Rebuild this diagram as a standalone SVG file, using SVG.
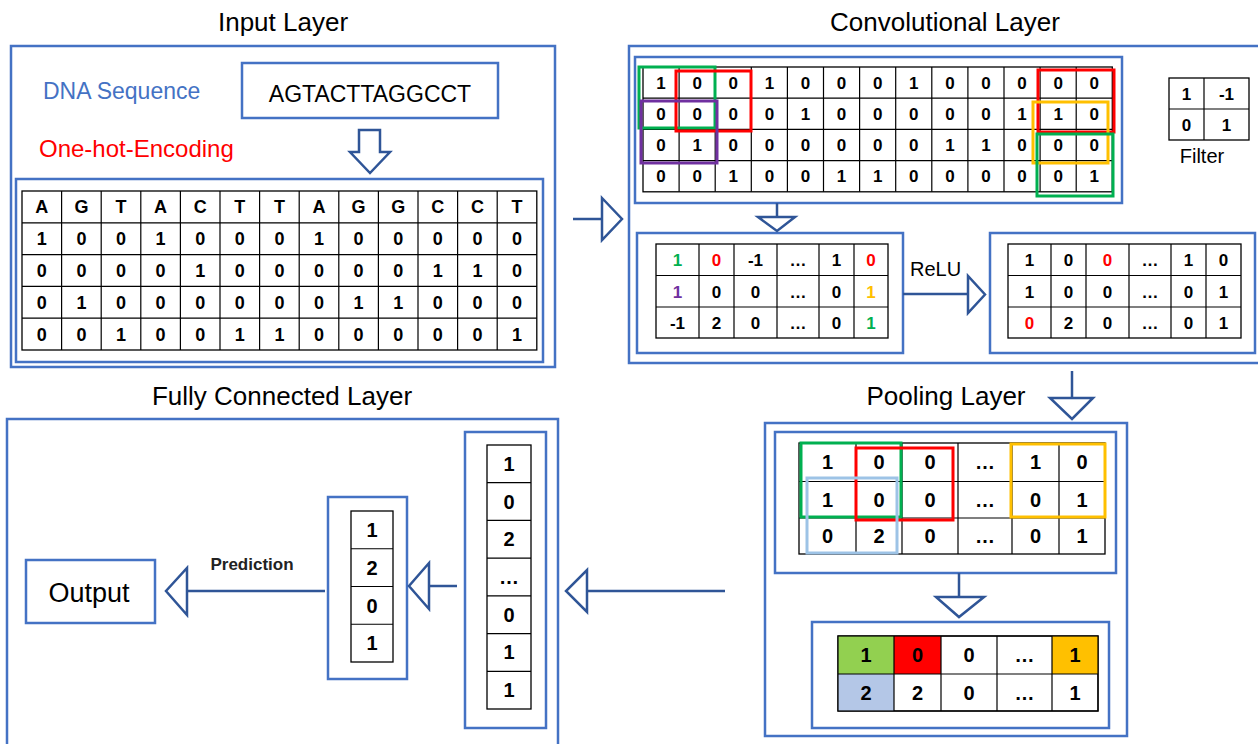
<svg xmlns="http://www.w3.org/2000/svg" width="1258" height="744" viewBox="0 0 1258 744">
<style>
.box{fill:none;stroke:#4472C4;stroke-width:2.5}
.tbl{fill:#fff;stroke:#000;stroke-width:1.3}
.grid{fill:none;stroke:#000;stroke-width:1.2}
.title{font-family:"Liberation Sans",Arial,sans-serif;font-size:26px;fill:#000;text-anchor:middle}
.c{font-family:"Liberation Sans",Arial,sans-serif;font-weight:bold;font-size:18px;fill:#000;text-anchor:middle}
.c17{font-family:"Liberation Sans",Arial,sans-serif;font-weight:bold;font-size:17px;fill:#000;text-anchor:middle}
.c20{font-family:"Liberation Sans",Arial,sans-serif;font-weight:bold;font-size:20px;fill:#000;text-anchor:middle}
.conn{fill:none;stroke:#2F5597;stroke-width:2.5}
.head{fill:#fff;stroke:#2F5597;stroke-width:2.5;stroke-linejoin:miter}
.hl{fill:none;stroke-width:3}
.g{fill:#00B050}.r{fill:#FF0000}.p{fill:#7030A0}.y{fill:#FFC000}
</style>
<rect width="1258" height="744" fill="#fff"/>

<!-- Input Layer -->
<g id="input-layer">
<text class="title" x="283" y="31">Input Layer</text>
<rect class="box" x="11" y="46" width="544" height="321"/>
<text x="43" y="99" font-family="Liberation Sans,Arial,sans-serif" font-size="23" fill="#4472C4">DNA Sequence</text>
<text x="39" y="157" font-family="Liberation Sans,Arial,sans-serif" font-size="24" fill="#FF0000">One-hot-Encoding</text>
</g>
<g id="dna-sequence">
<rect class="box" x="242" y="63" width="256" height="55"/>
<text x="370" y="102" font-family="Liberation Sans,Arial,sans-serif" font-size="23" fill="#000" text-anchor="middle">AGTACTTAGGCCT</text>
</g>
<g id="one-hot-table">
<rect class="box" x="16" y="179" width="527" height="183"/>
<rect class="tbl" x="22" y="191" width="514.8" height="159"/>
<path class="grid" d="M61.6 191V350M101.2 191V350M140.8 191V350M180.4 191V350M220 191V350M259.6 191V350M299.2 191V350M338.8 191V350M378.4 191V350M418 191V350M457.6 191V350M497.2 191V350M22 222.8H536.8M22 254.6H536.8M22 286.4H536.8M22 318.2H536.8"/>
<g class="c">
<text x="41.8" y="213.3">A</text><text x="81.4" y="213.3">G</text><text x="121" y="213.3">T</text><text x="160.6" y="213.3">A</text><text x="200.2" y="213.3">C</text><text x="239.8" y="213.3">T</text><text x="279.4" y="213.3">T</text><text x="319" y="213.3">A</text><text x="358.6" y="213.3">G</text><text x="398.2" y="213.3">G</text><text x="437.8" y="213.3">C</text><text x="477.4" y="213.3">C</text><text x="517" y="213.3">T</text>
<text x="41.8" y="245.1">1</text><text x="81.4" y="245.1">0</text><text x="121" y="245.1">0</text><text x="160.6" y="245.1">1</text><text x="200.2" y="245.1">0</text><text x="239.8" y="245.1">0</text><text x="279.4" y="245.1">0</text><text x="319" y="245.1">1</text><text x="358.6" y="245.1">0</text><text x="398.2" y="245.1">0</text><text x="437.8" y="245.1">0</text><text x="477.4" y="245.1">0</text><text x="517" y="245.1">0</text>
<text x="41.8" y="276.9">0</text><text x="81.4" y="276.9">0</text><text x="121" y="276.9">0</text><text x="160.6" y="276.9">0</text><text x="200.2" y="276.9">1</text><text x="239.8" y="276.9">0</text><text x="279.4" y="276.9">0</text><text x="319" y="276.9">0</text><text x="358.6" y="276.9">0</text><text x="398.2" y="276.9">0</text><text x="437.8" y="276.9">1</text><text x="477.4" y="276.9">1</text><text x="517" y="276.9">0</text>
<text x="41.8" y="308.7">0</text><text x="81.4" y="308.7">1</text><text x="121" y="308.7">0</text><text x="160.6" y="308.7">0</text><text x="200.2" y="308.7">0</text><text x="239.8" y="308.7">0</text><text x="279.4" y="308.7">0</text><text x="319" y="308.7">0</text><text x="358.6" y="308.7">1</text><text x="398.2" y="308.7">1</text><text x="437.8" y="308.7">0</text><text x="477.4" y="308.7">0</text><text x="517" y="308.7">0</text>
<text x="41.8" y="340.5">0</text><text x="81.4" y="340.5">0</text><text x="121" y="340.5">1</text><text x="160.6" y="340.5">0</text><text x="200.2" y="340.5">0</text><text x="239.8" y="340.5">1</text><text x="279.4" y="340.5">1</text><text x="319" y="340.5">0</text><text x="358.6" y="340.5">0</text><text x="398.2" y="340.5">0</text><text x="437.8" y="340.5">0</text><text x="477.4" y="340.5">0</text><text x="517" y="340.5">1</text>
</g>
</g>

<!-- Convolutional Layer -->
<g id="conv-layer">
<text class="title" x="945" y="31">Convolutional Layer</text>
<rect class="box" x="629" y="46" width="640" height="317"/>
</g>
<g id="conv-input">
<rect class="box" x="635" y="57" width="487" height="146"/>
<rect class="tbl" x="643" y="67" width="469.3" height="124.8"/>
<path class="grid" d="M679.1 67V191.8M715.2 67V191.8M751.3 67V191.8M787.4 67V191.8M823.5 67V191.8M859.6 67V191.8M895.7 67V191.8M931.8 67V191.8M967.9 67V191.8M1004 67V191.8M1040.1 67V191.8M1076.2 67V191.8M643 98.2H1112.3M643 129.4H1112.3M643 160.6H1112.3"/>
<g class="c17">
<text x="661.1" y="88.8">1</text><text x="697.2" y="88.8">0</text><text x="733.3" y="88.8">0</text><text x="769.4" y="88.8">1</text><text x="805.5" y="88.8">0</text><text x="841.6" y="88.8">0</text><text x="877.7" y="88.8">0</text><text x="913.8" y="88.8">1</text><text x="949.9" y="88.8">0</text><text x="986" y="88.8">0</text><text x="1022.1" y="88.8">0</text><text x="1058.2" y="88.8">0</text><text x="1094.3" y="88.8">0</text>
<text x="661.1" y="120">0</text><text x="697.2" y="120">0</text><text x="733.3" y="120">0</text><text x="769.4" y="120">0</text><text x="805.5" y="120">1</text><text x="841.6" y="120">0</text><text x="877.7" y="120">0</text><text x="913.8" y="120">0</text><text x="949.9" y="120">0</text><text x="986" y="120">0</text><text x="1022.1" y="120">1</text><text x="1058.2" y="120">1</text><text x="1094.3" y="120">0</text>
<text x="661.1" y="151.2">0</text><text x="697.2" y="151.2">1</text><text x="733.3" y="151.2">0</text><text x="769.4" y="151.2">0</text><text x="805.5" y="151.2">0</text><text x="841.6" y="151.2">0</text><text x="877.7" y="151.2">0</text><text x="913.8" y="151.2">0</text><text x="949.9" y="151.2">1</text><text x="986" y="151.2">1</text><text x="1022.1" y="151.2">0</text><text x="1058.2" y="151.2">0</text><text x="1094.3" y="151.2">0</text>
<text x="661.1" y="182.4">0</text><text x="697.2" y="182.4">0</text><text x="733.3" y="182.4">1</text><text x="769.4" y="182.4">0</text><text x="805.5" y="182.4">0</text><text x="841.6" y="182.4">1</text><text x="877.7" y="182.4">1</text><text x="913.8" y="182.4">0</text><text x="949.9" y="182.4">0</text><text x="986" y="182.4">0</text><text x="1022.1" y="182.4">0</text><text x="1058.2" y="182.4">0</text><text x="1094.3" y="182.4">1</text>
</g>
<rect class="hl" stroke="#00B050" x="639" y="67" width="76" height="61"/>
<rect class="hl" stroke="#FF0000" x="676" y="71" width="75" height="60"/>
<rect class="hl" stroke="#7030A0" x="641" y="101" width="76" height="62"/>
<rect class="hl" stroke="#FF0000" x="1038" y="70" width="76" height="62"/>
<rect class="hl" stroke="#FFC000" x="1033" y="102" width="75" height="61"/>
<rect class="hl" stroke="#00B050" x="1037" y="134" width="76" height="62"/>
</g>
<g id="filter">
<rect class="tbl" x="1169" y="78" width="80" height="62"/>
<path class="grid" d="M1204 78V140M1169 109H1249"/>
<g class="c17">
<text x="1186.5" y="99.5">1</text><text x="1226.5" y="99.5">-1</text>
<text x="1186.5" y="130.5">0</text><text x="1226.5" y="130.5">1</text>
</g>
<text x="1202" y="163" font-family="Liberation Sans,Arial,sans-serif" font-size="20" fill="#000" text-anchor="middle">Filter</text>
</g>
<g id="conv-output">
<rect class="box" x="637" y="233" width="266" height="120"/>
<rect class="tbl" x="656" y="244" width="232" height="94"/>
<path class="grid" d="M699 244V338M734 244V338M777 244V338M819 244V338M854 244V338M656 275.5H888M656 307H888"/>
<g class="c17">
<text class="g" x="677.5" y="266">1</text><text class="r" x="716.5" y="266">0</text><text x="755.5" y="266">-1</text><text x="798" y="266">…</text><text x="836.5" y="266">1</text><text class="r" x="871" y="266">0</text>
<text class="p" x="677.5" y="297.5">1</text><text x="716.5" y="297.5">0</text><text x="755.5" y="297.5">0</text><text x="798" y="297.5">…</text><text x="836.5" y="297.5">0</text><text class="y" x="871" y="297.5">1</text>
<text x="677.5" y="329">-1</text><text x="716.5" y="329">2</text><text x="755.5" y="329">0</text><text x="798" y="329">…</text><text x="836.5" y="329">0</text><text class="g" x="871" y="329">1</text>
</g>
</g>
<g id="relu-output">
<rect class="box" x="990" y="233" width="265" height="120"/>
<rect class="tbl" x="1008" y="244" width="233" height="94"/>
<path class="grid" d="M1051 244V338M1086 244V338M1129 244V338M1171 244V338M1206 244V338M1008 275.5H1241M1008 307H1241"/>
<g class="c17">
<text x="1029.5" y="266">1</text><text x="1068.5" y="266">0</text><text class="r" x="1107.5" y="266">0</text><text x="1150" y="266">…</text><text x="1188.5" y="266">1</text><text x="1223.5" y="266">0</text>
<text x="1029.5" y="297.5">1</text><text x="1068.5" y="297.5">0</text><text x="1107.5" y="297.5">0</text><text x="1150" y="297.5">…</text><text x="1188.5" y="297.5">0</text><text x="1223.5" y="297.5">1</text>
<text class="r" x="1029.5" y="329">0</text><text x="1068.5" y="329">2</text><text x="1107.5" y="329">0</text><text x="1150" y="329">…</text><text x="1188.5" y="329">0</text><text x="1223.5" y="329">1</text>
</g>
</g>

<!-- Pooling Layer -->
<g id="pooling-layer">
<text class="title" x="946" y="405">Pooling Layer</text>
<rect class="box" x="765" y="423" width="362" height="313"/>
</g>
<g id="pool-input">
<rect class="box" x="775" y="432" width="341" height="141"/>
<rect class="tbl" x="799" y="443" width="306" height="111"/>
<path class="grid" d="M856 443V554M902 443V554M958 443V554M1012 443V554M1059 443V554M799 481.5H1105M799 518H1105"/>
<g class="c20">
<text x="827.5" y="469">1</text><text x="879" y="469">0</text><text x="930" y="469">0</text><text x="985" y="469">…</text><text x="1035.5" y="469">1</text><text x="1082" y="469">0</text>
<text x="827.5" y="507">1</text><text x="879" y="507">0</text><text x="930" y="507">0</text><text x="985" y="507">…</text><text x="1035.5" y="507">0</text><text x="1082" y="507">1</text>
<text x="827.5" y="543">0</text><text x="879" y="543">2</text><text x="930" y="543">0</text><text x="985" y="543">…</text><text x="1035.5" y="543">0</text><text x="1082" y="543">1</text>
</g>
<rect class="hl" stroke="#00B050" stroke-width="3.5" x="801" y="443" width="100" height="74"/>
<rect class="hl" stroke="#FF0000" stroke-width="3.5" x="856" y="448" width="97" height="72"/>
<rect class="hl" stroke="#9DC3E6" stroke-width="3.5" x="807" y="478" width="90" height="75"/>
<rect class="hl" stroke="#FFC000" stroke-width="3.5" x="1011" y="444" width="94" height="73"/>
</g>
<g id="pool-output">
<rect class="box" x="812" y="622" width="297" height="106"/>
<rect class="tbl" x="838" y="636" width="260" height="75"/>
<rect x="838" y="636" width="56" height="38" fill="#92D050"/>
<rect x="894" y="636" width="47" height="38" fill="#FF0000"/>
<rect x="1052" y="636" width="46" height="38" fill="#FFC000"/>
<rect x="838" y="674" width="56" height="37" fill="#B4C7E7"/>
<rect class="grid" x="838" y="636" width="260" height="75"/>
<path class="grid" d="M894 636V711M941 636V711M997 636V711M1052 636V711M838 674H1098"/>
<g class="c20">
<text x="866" y="662">1</text><text x="917.5" y="662">0</text><text x="969" y="662">0</text><text x="1024.5" y="662">…</text><text x="1075" y="662">1</text>
<text x="866" y="699.5">2</text><text x="917.5" y="699.5">2</text><text x="969" y="699.5">0</text><text x="1024.5" y="699.5">…</text><text x="1075" y="699.5">1</text>
</g>
</g>

<!-- Fully Connected Layer -->
<g id="fc-layer">
<text class="title" x="282" y="405">Fully Connected Layer</text>
<rect class="box" x="7" y="419" width="551" height="340"/>
</g>
<g id="flatten-vector">
<rect class="box" x="465" y="432" width="81" height="296"/>
<rect class="tbl" x="487" y="445" width="44" height="264"/>
<path class="grid" d="M487 482.7H531M487 520.4H531M487 558.1H531M487 595.9H531M487 633.6H531M487 671.3H531"/>
<g class="c20">
<text x="509" y="471">1</text><text x="509" y="508.6">0</text><text x="509" y="546.3">2</text><text x="509" y="584">…</text><text x="509" y="621.7">0</text><text x="509" y="659.4">1</text><text x="509" y="697.1">1</text>
</g>
</g>
<g id="dense-vector">
<rect class="box" x="328" y="497" width="79" height="182"/>
<rect class="tbl" x="351" y="511" width="42" height="151"/>
<path class="grid" d="M351 548.75H393M351 586.5H393M351 624.25H393"/>
<g class="c20">
<text x="372" y="537">1</text><text x="372" y="574.7">2</text><text x="372" y="612.5">0</text><text x="372" y="650.2">1</text>
</g>
</g>
<g id="output">
<rect class="box" x="26" y="560" width="129" height="63"/>
<text x="89" y="602" font-family="Liberation Sans,Arial,sans-serif" font-size="27" fill="#000" text-anchor="middle">Output</text>
</g>

<!-- Connectors -->
<g id="connectors">
<polygon class="head" stroke="#4472C4" stroke-width="2" points="359,130 380,130 380,152 390,152 370,173 350,152 359,152"/>
<line class="conn" x1="573" y1="219" x2="602" y2="219"/>
<polygon class="head" points="602,198 602,240 622,219"/>
<line class="conn" x1="777" y1="203" x2="777" y2="217"/>
<polygon class="head" points="758,217 795,217 777,231"/>
<line class="conn" x1="903" y1="294" x2="968" y2="294"/>
<polygon class="head" points="968,276 968,313 985,294.5"/>
<text x="910" y="276" font-family="Liberation Sans,Arial,sans-serif" font-size="20" fill="#000">ReLU</text>
<line class="conn" x1="1072" y1="371" x2="1072" y2="398"/>
<polygon class="head" points="1050,398 1093,398 1072,419"/>
<line class="conn" x1="959" y1="573" x2="959" y2="597"/>
<polygon class="head" points="936,597 984,597 959,617"/>
<line class="conn" x1="587" y1="591" x2="725" y2="591"/>
<polygon class="head" points="587,570 587,612 566,591"/>
<line class="conn" x1="429" y1="586" x2="457" y2="586"/>
<polygon class="head" points="429,563 429,609 409,586"/>
<line class="conn" stroke-width="3" stroke="#3A62AC" x1="187" y1="591" x2="325" y2="591"/>
<polygon class="head" points="187,568 187,615 166,591"/>
<text x="252" y="570" font-family="Liberation Sans,Arial,sans-serif" font-size="17" font-weight="bold" fill="#222" text-anchor="middle">Prediction</text>
</g>
</svg>
